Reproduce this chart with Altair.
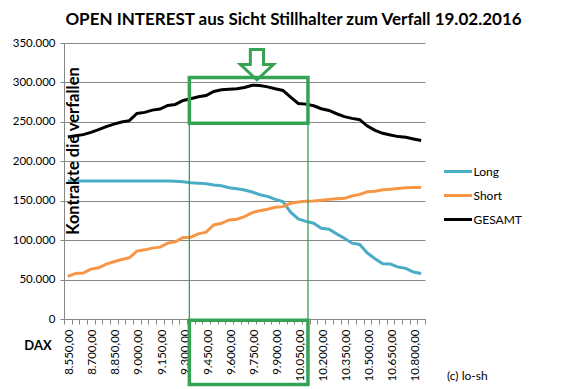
import altair as alt
import pandas as pd

# ---------------- data ----------------
dax = list(range(8550, 10851, 50))  # 47 DAX strike categories 8.550 ... 10.850

long_k = [175.0, 175.0, 175.0, 175.0, 175.0, 175.0, 175.0, 175.0, 175.0, 175.0,
          175.0, 175.0, 175.0, 175.0, 174.8, 174.0, 172.7, 172.3, 171.5, 169.8,
          169.0, 166.4, 165.2, 163.5, 161.0, 157.6, 155.5, 151.7, 148.8, 135.5,
          127.0, 123.8, 121.4, 115.1, 113.8, 108.0, 102.5, 96.2, 94.5, 83.6,
          76.4, 70.1, 69.7, 65.9, 64.2, 59.6, 57.8]
short_k = [54.0, 57.8, 58.3, 63.3, 65.0, 69.7, 72.6, 75.5, 77.6, 86.1,
           87.7, 89.9, 91.1, 96.2, 97.9, 103.5, 103.8, 108.0, 110.1, 119.3,
           121.4, 125.6, 126.5, 129.8, 134.9, 137.4, 139.1, 141.7, 142.5, 146.7,
           148.4, 149.2, 149.6, 150.5, 151.7, 152.5, 153.0, 155.9, 158.0, 161.4,
           161.9, 163.9, 164.4, 165.6, 166.4, 166.9, 166.9]
gesamt_k = [230.8, 232.5, 233.8, 236.7, 240.1, 243.9, 247.2, 249.8, 251.5, 260.7,
            262.0, 264.9, 266.2, 270.8, 272.1, 277.1, 279.3, 281.8, 283.4, 288.5,
            290.6, 291.4, 291.9, 293.6, 296.5, 296.1, 294.4, 291.9, 289.8, 281.3,
            273.3, 272.5, 270.4, 266.7, 264.5, 260.3, 256.6, 254.4, 252.8, 244.7,
            239.3, 235.5, 233.3, 231.3, 230.4, 228.3, 226.3]

series_names = ["Long", "Short", "GESAMT"]
series_colors = ["#4BACC6", "#F79646", "#000000"]

y_ticks = [0, 50000, 100000, 150000, 200000, 250000, 300000, 350000]
x_label_values = dax[::3]                       # 8.550, 8.700, ... 10.800
x_tick_bounds = [d - 25 for d in dax] + [dax[-1] + 25]

# highlight annotation (in data units)
box_x = [9341, 10113]
upper_box_y = [248100, 306100]
lower_box_y = [-83000, -1500]
arrow_pos = [9781, 322600]

title_text = "OPEN INTEREST aus Sicht Stillhalter zum Verfall 19.02.2016"
ytitle_text = "Kontrakte die verfallen"

GREEN = "#35A353"
GRID = "#868686"
FONT = "Lato"

rows = []
for name, vals in zip(series_names, [long_k, short_k, gesamt_k]):
    for d, v in zip(dax, vals):
        rows.append({"dax": d, "value": v * 1000, "series": name})
df = pd.DataFrame(rows)

x_scale = alt.Scale(domain=[dax[0] - 25, dax[-1] + 25], nice=False, zero=False)
y_scale = alt.Scale(domain=[0, 350000], nice=False)

x_axis = alt.Axis(
    title=None,
    values=sorted(x_tick_bounds + x_label_values),
    format=",.2f",
    labelAngle=270, labelAlign="right", labelBaseline="middle",
    labelFont=FONT, labelFontSize=11.5, labelColor="#000000",
    labelPadding=5, labelOverlap=False, labelOffset=2,
    labelOpacity={"condition": {"test": "(datum.value - 8550) % 150 == 0", "value": 1}, "value": 0},
    tickOpacity={"condition": {"test": "(datum.value - 8525) % 50 == 0", "value": 1}, "value": 0},
    tickSize=5, tickColor=GRID,
    domainColor=GRID, grid=False,
)
y_axis = alt.Axis(
    title=None, values=y_ticks, format=",d",
    labelFont=FONT, labelFontSize=11.5, labelColor="#000000", labelPadding=5,
    tickSize=4, tickColor=GRID, domainColor=GRID,
    grid=True, gridColor=GRID, gridWidth=1,
)


def X(field):
    return alt.X(field, scale=x_scale, axis=x_axis)


def Y(field):
    return alt.Y(field, scale=y_scale, axis=y_axis)


lines = alt.Chart(df).mark_line(strokeWidth=3).encode(
    x=X("dax:Q"),
    y=Y("value:Q"),
    color=alt.Color(
        "series:N",
        scale=alt.Scale(domain=series_names, range=series_colors),
        sort=series_names,
        legend=alt.Legend(
            title=None, orient="none", legendX=382.5, legendY=117,
            symbolType="M -1.4 0 L 1.4 0", symbolSize=400, symbolStrokeWidth=3,
            labelFont=FONT, labelFontSize=12, labelColor="#000000",
            labelOffset=4, rowPadding=6, padding=0,
        ),
    ),
    order=alt.Order("dax:Q"),
)

box_df = pd.DataFrame({
    "x0": [box_x[0], box_x[0]], "x1": [box_x[1], box_x[1]],
    "y0": [upper_box_y[0], lower_box_y[0]], "y1": [upper_box_y[1], lower_box_y[1]],
})
boxes = alt.Chart(box_df).mark_rect(fillOpacity=0, stroke=GREEN, strokeWidth=3.5).encode(
    x=X("x0:Q"), x2="x1:Q",
    y=Y("y0:Q"), y2="y1:Q",
)

rule_df = pd.DataFrame({"x": box_x, "y0": [upper_box_y[0]] * 2, "y1": [lower_box_y[1]] * 2})
rules = alt.Chart(rule_df).mark_rule(stroke=GREEN, strokeWidth=1.3).encode(
    x=X("x:Q"),
    y=Y("y0:Q"), y2="y1:Q",
)

arrow_df = pd.DataFrame({"x": [arrow_pos[0]], "y": [arrow_pos[1]]})
arrow = alt.Chart(arrow_df).mark_point(
    shape="M -0.4 -0.92 L 0.4 -0.92 L 0.4 0 L 1 0 L 0 0.92 L -1 0 L -0.4 0 Z",
    size=1089, filled=False, stroke=GREEN, strokeWidth=3, opacity=1,
).encode(
    x=X("x:Q"),
    y=Y("y:Q"),
)


def note(text, x, y, **kw):
    return alt.Chart(pd.DataFrame({"t": [text]})).mark_text(font=FONT, color="#000000", **kw).encode(
        x=alt.value(x), y=alt.value(y), text="t:N"
    )


title_mark = note(title_text, 229.5, -18, fontSize=17, fontWeight="bold", align="center", baseline="alphabetic")
ytitle = note(ytitle_text, 10, 108, fontSize=16.5, fontWeight="bold", angle=270, align="center", baseline="middle")
daxlab = note("DAX", -26, 303, fontSize=13, fontWeight="bold", align="center", baseline="middle")
copy = note("(c) lo-sh", 383, 333, fontSize=12, align="left", baseline="middle")

chart = alt.layer(lines, rules, boxes, arrow, title_mark, ytitle, daxlab, copy).properties(
    width=361, height=276,
    background="white",
    autosize=alt.AutoSizeParams(type="none"),
    padding={"left": 56, "top": 35, "right": 129, "bottom": 70},
).configure(
    view=alt.ViewConfig(stroke=None),
    locale={"number": {"decimal": ",", "thousands": ".", "grouping": [3], "currency": ["", " €"]}},
)

chart.save("out.html", embed_options={"renderer": "svg", "actions": False})
